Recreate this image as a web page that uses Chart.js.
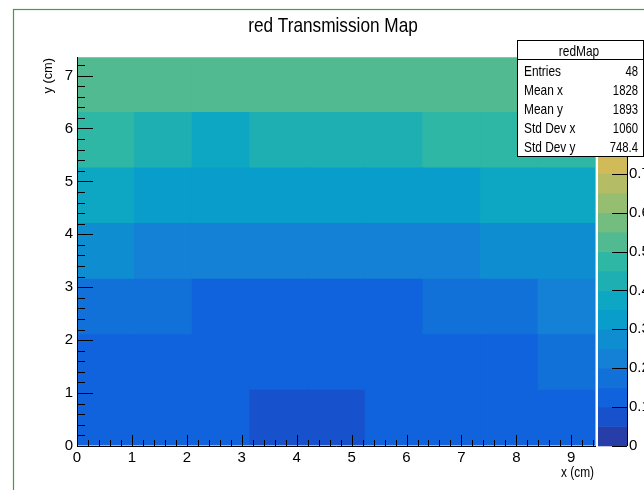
<!DOCTYPE html>
<html>
<head>
<meta charset="utf-8">
<title>red Transmission Map</title>
<script src="https://cdn.jsdelivr.net/npm/chart.js@4.4.1/dist/chart.umd.min.js"></script>
<style>
  html, body { margin: 0; padding: 0; background: #fff; }
  #wrap { width: 644px; height: 490px; }
</style>
</head>
<body>
<div id="wrap"><canvas id="map" width="644" height="490"></canvas></div>
<script>
// bin edges of redMap (cm)
const xEdges = [0, 1.05, 2.1, 3.15, 4.2, 5.25, 6.3, 7.35, 8.4, 9.45];
const yEdges = [0, 1.05, 2.1, 3.15, 4.2, 5.25, 6.3, 7.35];
const xTickStep = 1;
const yTickStep = 1;

// transmission per bin, one array per y row (bottom to top)
const row0 = [0.12, 0.12, 0.13, 0.09, 0.09, 0.12, 0.12, 0.13, 0.14];
const row1 = [0.13, 0.12, 0.12, 0.13, 0.13, 0.12, 0.13, 0.14, 0.17];
const row2 = [0.17, 0.16, 0.14, 0.13, 0.13, 0.14, 0.18, 0.17, 0.22];
const row3 = [0.27, 0.23, 0.22, 0.22, 0.23, 0.23, 0.24, 0.27, 0.28];
const row4 = [0.37, 0.33, 0.32, 0.32, 0.33, 0.33, 0.34, 0.36, 0.37];
const row5 = [0.47, 0.43, 0.38, 0.42, 0.43, 0.44, 0.46, 0.47, 0.48];
const row6 = [0.52, 0.53, 0.53, 0.52, 0.53, 0.53, 0.52, 0.53, 0.54];
const rows = [row0, row1, row2, row3, row4, row5, row6];

// z (colour) axis
const zMin = 0;
const zMax = 1;
const zContours = 20;

// stats box
const statsTitle = 'redMap';
const statLabels = ['Entries', 'Mean x', 'Mean y', 'Std Dev x', 'Std Dev y'];
const statValues = ['48', '1828', '1893', '1060', '748.4'];

const titleText = 'red Transmission Map';
const xTitle = 'x (cm)';
const yTitle = 'y (cm)';

// ROOT kBird palette
const birdStops = [0.0, 0.125, 0.25, 0.375, 0.5, 0.625, 0.75, 0.875, 1.0];
const birdR = [0.2082, 0.0592, 0.0780, 0.0232, 0.1802, 0.5301, 0.8186, 0.9956, 0.9764];
const birdG = [0.1664, 0.3599, 0.5041, 0.6419, 0.7178, 0.7492, 0.7328, 0.7862, 0.9832];
const birdB = [0.5293, 0.8684, 0.8385, 0.7914, 0.6425, 0.4662, 0.3499, 0.1968, 0.0539];

function bird(f) {
  let i = 0;
  while (i < birdStops.length - 2 && f > birdStops[i + 1]) i++;
  const t = (f - birdStops[i]) / (birdStops[i + 1] - birdStops[i]);
  const c = arr => Math.round(255 * (arr[i] + (arr[i + 1] - arr[i]) * t));
  return 'rgb(' + c(birdR) + ',' + c(birdG) + ',' + c(birdB) + ')';
}

function bandColor(b) {
  const idx = Math.floor((b + 0.99) * 255 / zContours);
  return bird(Math.min(idx, 254) / 254);
}

function zColor(v) {
  const b = Math.floor((v - zMin) / (zMax - zMin) * zContours + 1e-9);
  return bandColor(Math.max(0, Math.min(zContours - 1, b)));
}

// is the narrow face there? otherwise squeeze the regular one
const hasNarrow = (() => {
  const c = document.createElement('canvas').getContext('2d');
  c.font = '40px monospace';
  const a = c.measureText('Entries mmm').width;
  c.font = "40px 'Liberation Sans Narrow', monospace";
  return c.measureText('Entries mmm').width !== a;
})();
const FAMILY = hasNarrow ? "'Liberation Sans Narrow', 'Liberation Sans', sans-serif" : "'Liberation Sans', sans-serif";
const SQUEEZE = hasNarrow ? 1 : 0.82;

function rootText(ctx, str, x, y, size, align, sx, rot) {
  ctx.save();
  ctx.translate(x, y);
  if (rot) ctx.rotate(rot);
  ctx.scale(sx * SQUEEZE, 1);
  ctx.font = size + 'px ' + FAMILY;
  ctx.textAlign = align;
  ctx.textBaseline = 'alphabetic';
  ctx.fillStyle = '#000';
  ctx.fillText(str, 0, 0);
  ctx.restore();
}

const rootDecor = {
  id: 'rootDecor',
  afterDatasetsDraw(chart) {
    const ctx = chart.ctx;
    const a = chart.chartArea;
    const xs = chart.scales.x, ys = chart.scales.y;
    ctx.save();
    // frame
    ctx.strokeStyle = '#b0b0b0';
    ctx.lineWidth = 1;
    ctx.strokeRect(a.left + 0.5, a.top + 0.5, a.right - a.left - 1, a.bottom - a.top - 1);
    ctx.strokeStyle = '#000';
    ctx.beginPath();
    ctx.moveTo(a.left + 0.5, a.top);
    ctx.lineTo(a.left + 0.5, a.bottom + 0.5);
    ctx.lineTo(a.right, a.bottom + 0.5);
    ctx.stroke();
    // ticks inside the frame
    ctx.beginPath();
    for (let k = 0; k * 0.2 <= xEdges[xEdges.length - 1] + 1e-9; k++) {
      const px = Math.round(xs.getPixelForValue(k * 0.2)) + 0.5;
      const len = k % 5 === 0 ? 11 : 6;
      ctx.moveTo(px, a.bottom);
      ctx.lineTo(px, a.bottom - len);
    }
    for (let k = 0; k * 0.2 <= yEdges[yEdges.length - 1] + 1e-9; k++) {
      const py = Math.round(ys.getPixelForValue(k * 0.2)) + 0.5;
      const len = k % 5 === 0 ? 16 : 8;
      ctx.moveTo(a.left, py);
      ctx.lineTo(a.left + len, py);
    }
    ctx.stroke();
    ctx.restore();
  },
  afterDraw(chart) {
    const ctx = chart.ctx;
    const a = chart.chartArea;
    const zs = chart.scales.z;
    ctx.save();
    // colour bar
    const bx0 = a.right + 2, bx1 = a.right + 31;
    const step = (zMax - zMin) / zContours;
    for (let b = 0; b < zContours; b++) {
      const y0 = zs.getPixelForValue(zMin + b * step);
      const y1 = zs.getPixelForValue(zMin + (b + 1) * step);
      ctx.fillStyle = bandColor(b);
      ctx.fillRect(bx0, y1 - 0.3, bx1 - bx0, y0 - y1 + 0.6);
    }
    ctx.strokeStyle = '#000';
    ctx.lineWidth = 1;
    ctx.beginPath();
    ctx.moveTo(bx1 + 0.5, a.top);
    ctx.lineTo(bx1 + 0.5, a.bottom);
    zs.ticks.forEach(t => {
      const py = Math.round(zs.getPixelForValue(t.value)) + 0.5;
      ctx.moveTo(bx1 - 15, py);
      ctx.lineTo(bx1, py);
    });
    ctx.stroke();

    // stats box, runs off the right edge like the original pad
    const sx0 = 517.5, sx1 = 643.5, sy0 = 40.5, sy1 = 156.5;
    ctx.fillStyle = '#fff';
    ctx.fillRect(sx0, sy0, 700 - sx0, sy1 - sy0);
    ctx.strokeStyle = '#000';
    ctx.strokeRect(sx0, sy0, sx1 - sx0, sy1 - sy0);
    ctx.beginPath();
    ctx.moveTo(sx0, 59.5);
    ctx.lineTo(sx1, 59.5);
    ctx.stroke();
    rootText(ctx, statsTitle, 579, 56, 14.5, 'center', 1);
    statLabels.forEach((lab, i) => {
      const base = 75.5 + i * 19.2;
      rootText(ctx, lab, 524, base, 14.5, 'left', 1);
      rootText(ctx, statValues[i], 638, base, 14.5, 'right', 0.95);
    });

    // titles
    rootText(ctx, titleText, 333, 32, 21, 'center', 1);
    rootText(ctx, xTitle, 594, 477, 14.5, 'right', 1);
    rootText(ctx, yTitle, 52, 58, 12.5, 'right', 1.25, -Math.PI / 2);

    // canvas border
    ctx.strokeStyle = '#3f9f3f';
    ctx.lineWidth = 1.2;
    ctx.strokeRect(13.5, 9.5, 1000, 1000);
    ctx.restore();
  }
};

// the bar ruler takes the tick spacing as its unit, so widen to one bin
const binToTick = (xEdges[1] - xEdges[0]) / xTickStep;

const datasets = rows.map((vals, r) => ({
  label: 'y ' + yEdges[r] + '-' + yEdges[r + 1],
  data: vals.map((v, c) => ({
    x: (xEdges[c] + xEdges[c + 1]) / 2,
    y: [yEdges[r], yEdges[r + 1]]
  })),
  backgroundColor: vals.map(zColor),
  borderWidth: 0,
  borderSkipped: false,
  inflateAmount: 0.6,
  barPercentage: 1,
  categoryPercentage: binToTick,
  grouped: false
}));

Chart.defaults.font.family = FAMILY;
Chart.defaults.color = '#000';

new Chart(document.getElementById('map'), {
  type: 'bar',
  data: { datasets: datasets },
  options: {
    responsive: false,
    animation: false,
    events: [],
    layout: { padding: { top: 57, left: 0, right: 0, bottom: 0 } },
    plugins: {
      legend: { display: false },
      title: { display: false },
      tooltip: { enabled: false }
    },
    scales: {
      x: {
        type: 'linear',
        offset: false,
        min: xEdges[0],
        max: xEdges[xEdges.length - 1],
        grid: { display: false, drawTicks: false },
        border: { display: false },
        ticks: { stepSize: xTickStep, includeBounds: false, padding: 3, maxRotation: 0, font: { size: hasNarrow ? 16 : 15 } },
        afterFit: s => { s.height = 44; }
      },
      y: {
        type: 'linear',
        position: 'left',
        min: yEdges[0],
        max: yEdges[yEdges.length - 1],
        grid: { display: false, drawTicks: false },
        border: { display: false },
        ticks: { stepSize: yTickStep, includeBounds: false, padding: 4, font: { size: hasNarrow ? 16 : 15 } },
        afterFit: s => { s.width = 77; }
      },
      z: {
        type: 'linear',
        position: 'right',
        min: zMin,
        max: zMax,
        grid: { display: false, drawTicks: false },
        border: { display: false },
        ticks: { stepSize: 0.1, padding: 33, font: { size: hasNarrow ? 16 : 15 } },
        afterFit: s => { s.width = 48; }
      }
    }
  },
  plugins: [rootDecor]
});
</script>
</body>
</html>
